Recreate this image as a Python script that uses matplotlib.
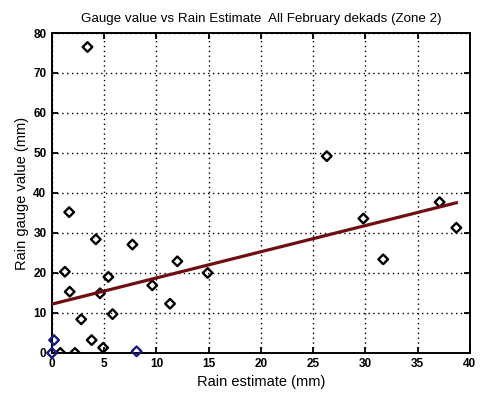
import numpy as np
from matplotlib import pyplot as plt

# rain estimate (mm) vs gauge reading (mm), all February dekads, zone 2
rain_est = [3.4, 1.65, 4.2, 7.7, 12.0, 1.24, 5.4, 1.7, 4.6, 9.6, 11.3, 5.8, 2.8,
            3.8, 4.9, 0.8, 2.2, 14.9, 26.3, 37.1, 29.8, 38.7, 31.7]
gauge_val = [76.5, 35.2, 28.4, 27.1, 22.9, 20.3, 19.0, 15.3, 14.9, 16.9, 12.3, 9.7, 8.4,
             3.2, 1.3, 0.0, 0.0, 20.0, 49.2, 37.7, 33.6, 31.3, 23.4]

# points plotted in the second (blue) series
blue_est = [0.2, 8.1, 0.0]
blue_val = [3.2, 0.4, 0.0]

# least squares line
fit_intercept = 12.2
fit_slope = 0.655

plt.rcParams['font.family'] = ['Liberation Sans', 'DejaVu Sans']

fig = plt.figure(figsize=(4.81, 3.93), dpi=100)
ax = fig.add_axes([0.108, 0.102, 0.869, 0.814])

ax.scatter(rain_est, gauge_val, marker='D', s=24, facecolors='none',
           edgecolors='black', linewidths=1.7, zorder=3)
ax.scatter(blue_est, blue_val, marker='D', s=24, facecolors='none',
           edgecolors='#1a1a7a', linewidths=1.7, zorder=3, clip_on=False)

xf = np.array([0, max(rain_est)])
ax.plot(xf, fit_intercept + fit_slope * xf, color='#6e0e0e', linewidth=2.3, zorder=4)

ax.set_xlim(0, 40)
ax.set_ylim(0, 80)
ax.set_xticks(range(0, 41, 5))
ax.set_yticks(range(0, 81, 10))
ax.grid(True, color='black', linestyle=(0, (1, 2.5)), linewidth=1.0)
ax.tick_params(direction='in', labelsize=8.5, length=4, width=1.3, top=True, right=True, pad=4)
for lab in ax.get_xticklabels() + ax.get_yticklabels():
    lab.set_fontweight('bold')
for s in ax.spines.values():
    s.set_linewidth(1.4)

ax.set_title('Gauge value vs Rain Estimate  All February dekads (Zone 2)', fontsize=9.6, pad=8)
ax.set_xlabel('Rain estimate (mm)', fontsize=10.5, labelpad=3)
ax.set_ylabel('Rain gauge value (mm)', fontsize=10.5, labelpad=3)

plt.savefig('out.png', dpi=100)
